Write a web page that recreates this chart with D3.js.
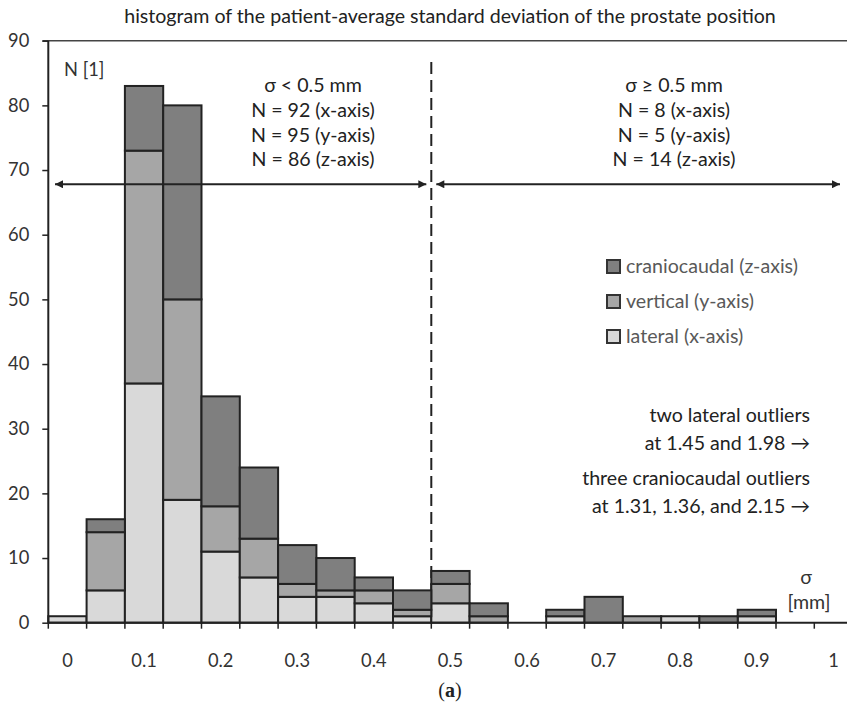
<!DOCTYPE html>
<html>
<head>
<meta charset="utf-8">
<script src="https://cdn.jsdelivr.net/npm/d3@7"></script>
<style>
  html, body { margin: 0; padding: 0; background: #fff; }
  svg text { font-family: Lato, "Noto Sans", sans-serif; }
  svg text.serif { font-family: "Liberation Serif", "DejaVu Serif", serif; }
</style>
</head>
<body>
<svg id="chart" width="847" height="702"></svg>
<script>
// Histogram bins (bin centres, mm) and counts per axis
const bins = ["0", "0.05", "0.1", "0.15", "0.2", "0.25", "0.3", "0.35", "0.4", "0.45",
              "0.5", "0.55", "0.6", "0.65", "0.7", "0.75", "0.8", "0.85", "0.9", "0.95", "1"];
const tickLabels = ["0", "0.1", "0.2", "0.3", "0.4", "0.5", "0.6", "0.7", "0.8", "0.9", "1"];
const lateral      = [1, 5, 37, 19, 11, 7, 4, 4, 3, 1, 3, 0, 0, 1, 0, 0, 1, 0, 1, 0, 0];
const vertical     = [0, 9, 36, 31, 7, 6, 2, 1, 2, 1, 3, 1, 0, 0, 0, 1, 0, 0, 0, 0, 0];
const craniocaudal = [0, 2, 10, 30, 17, 11, 6, 5, 2, 3, 2, 2, 0, 1, 4, 0, 0, 1, 1, 0, 0];
const yTicks = [0, 10, 20, 30, 40, 50, 60, 70, 80, 90];

const seriesKeys = ["lateral", "vertical", "craniocaudal"];
const seriesNames = {
  craniocaudal: "craniocaudal (z-axis)",
  vertical: "vertical (y-axis)",
  lateral: "lateral (x-axis)"
};
const colors = { lateral: "#d9d9d9", vertical: "#a6a6a6", craniocaudal: "#7f7f7f" };

const leftText = ["σ < 0.5 mm", "N = 92 (x-axis)", "N = 95 (y-axis)", "N = 86 (z-axis)"];
const rightText = ["σ ≥ 0.5 mm", "N = 8 (x-axis)", "N = 5 (y-axis)", "N = 14 (z-axis)"];
const outlierText = ["two lateral outliers", "at 1.45 and 1.98 →",
                     "three craniocaudal outliers", "at 1.31, 1.36, and 2.15 →"];

const table = bins.map((b, i) => ({
  bin: b, lateral: lateral[i], vertical: vertical[i], craniocaudal: craniocaudal[i]
}));

const svg = d3.select("#chart");
const ink = "#222";
const fs = 19.6;     // annotation text
const fsAxis = 18.3; // tick labels

const x = d3.scaleBand().domain(bins).range([48.3, 48.3 + 21 * 38.3]).padding(0);
const y = d3.scaleLinear().domain([0, 90]).range([622.7, 40.7]);

// Title
svg.append("text")
  .attr("x", 450).attr("y", 23)
  .attr("text-anchor", "middle")
  .attr("font-size", fs).attr("fill", "#222")
  .text("histogram of the patient-average standard deviation of the prostate position");

// Top border line at 90
svg.append("line")
  .attr("x1", 42.5).attr("x2", 847)
  .attr("y1", y(90)).attr("y2", y(90))
  .attr("stroke", "#444").attr("stroke-width", 1.5);

// Divider between σ < 0.5 and σ ≥ 0.5
const xDiv = x("0.5");
svg.append("line")
  .attr("x1", xDiv).attr("x2", xDiv)
  .attr("y1", 62).attr("y2", y(0))
  .attr("stroke", ink).attr("stroke-width", 2)
  .attr("stroke-dasharray", "12,6");

// Stacked bars
const stack = d3.stack().keys(seriesKeys);
const layers = stack(table);
svg.append("g").selectAll("g")
  .data(layers)
  .join("g")
  .attr("fill", d => colors[d.key])
  .selectAll("rect")
  .data(d => d.filter(s => s[1] - s[0] > 0))
  .join("rect")
  .attr("x", d => x(d.data.bin))
  .attr("width", x.bandwidth())
  .attr("y", d => y(d[1]))
  .attr("height", d => y(d[0]) - y(d[1]))
  .attr("stroke", ink).attr("stroke-width", 2);

// Y axis
const yAxis = svg.append("g").attr("transform", `translate(${x.range()[0]},0)`)
  .call(d3.axisLeft(y).tickValues(yTicks).tickSize(6).tickPadding(13));
yAxis.select(".domain").attr("stroke", ink).attr("stroke-width", 2).attr("d", `M0,${y(90)}V${y(0)}`);
yAxis.selectAll(".tick line").attr("stroke", ink).attr("stroke-width", 1.5);
yAxis.selectAll(".tick text").attr("font-size", fsAxis).attr("fill", "#333");

// X axis: tick marks at bin edges, labels under every other bin
const edges = bins.map(b => x(b)).concat([x.range()[1]]);
const xAxisG = svg.append("g");
xAxisG.append("line")
  .attr("x1", x.range()[0]).attr("x2", 847)
  .attr("y1", y(0)).attr("y2", y(0))
  .attr("stroke", ink).attr("stroke-width", 2);
xAxisG.selectAll("line.edge")
  .data(edges.filter(e => e <= 847))
  .join("line").attr("class", "edge")
  .attr("x1", d => d).attr("x2", d => d)
  .attr("y1", y(0)).attr("y2", y(0) + 6)
  .attr("stroke", ink).attr("stroke-width", 1.5);
xAxisG.selectAll("text")
  .data(tickLabels)
  .join("text")
  .attr("x", d => x(d) + x.bandwidth() / 2)
  .attr("y", 667)
  .attr("text-anchor", "middle")
  .attr("font-size", fsAxis).attr("fill", "#333")
  .text(d => d);

// Axis titles
svg.append("text").attr("x", 64).attr("y", 76)
  .attr("font-size", fsAxis).attr("fill", "#333").text("N [1]");
svg.append("text").attr("x", 806).attr("y", 584)
  .attr("text-anchor", "middle").attr("font-size", fs).attr("fill", "#333").text("σ");
svg.append("text").attr("x", 809).attr("y", 609)
  .attr("text-anchor", "middle").attr("font-size", fs).attr("fill", "#333").text("[mm]");

// Range annotations
const lineGap = 24.8;
svg.append("g").selectAll("text").data(leftText).join("text")
  .attr("x", 313).attr("y", (d, i) => 92 + i * lineGap)
  .attr("text-anchor", "middle").attr("font-size", fs).attr("fill", "#222")
  .text(d => d);
svg.append("g").selectAll("text").data(rightText).join("text")
  .attr("x", 674).attr("y", (d, i) => 92 + i * lineGap)
  .attr("text-anchor", "middle").attr("font-size", fs).attr("fill", "#222")
  .text(d => d);

// Arrows spanning each range
const defs = svg.append("defs");
defs.append("marker").attr("id", "head")
  .attr("viewBox", "0 0 10 10").attr("refX", 10).attr("refY", 5)
  .attr("markerWidth", 5.5).attr("markerHeight", 4).attr("markerUnits", "strokeWidth")
  .attr("orient", "auto-start-reverse")
  .append("path").attr("d", "M0,0L10,5L0,10Z").attr("fill", ink);

const arrowY = y(67.8);
svg.append("line")
  .attr("x1", 55).attr("x2", xDiv - 5)
  .attr("y1", arrowY).attr("y2", arrowY)
  .attr("stroke", ink).attr("stroke-width", 2)
  .attr("marker-start", "url(#head)").attr("marker-end", "url(#head)");
svg.append("line")
  .attr("x1", xDiv + 5).attr("x2", 840)
  .attr("y1", arrowY).attr("y2", arrowY)
  .attr("stroke", ink).attr("stroke-width", 2)
  .attr("marker-start", "url(#head)").attr("marker-end", "url(#head)");

// Legend
const legendKeys = ["craniocaudal", "vertical", "lateral"];
const legend = svg.append("g").selectAll("g").data(legendKeys).join("g")
  .attr("transform", (d, i) => `translate(607,${260 + i * 35})`);
legend.append("rect").attr("width", 13).attr("height", 13)
  .attr("fill", d => colors[d]).attr("stroke", "#333").attr("stroke-width", 2);
legend.append("text").attr("x", 19).attr("y", 13)
  .attr("font-size", fs).attr("fill", "#595959")
  .text(d => seriesNames[d]);

// Outlier notes
svg.append("g").selectAll("text").data(outlierText).join("text")
  .attr("x", 810).attr("y", (d, i) => [422, 450, 485, 513][i])
  .attr("text-anchor", "end").attr("font-size", fs).attr("fill", "#222")
  .text(d => d);

// Panel label
svg.append("text").attr("class", "serif").attr("x", 450).attr("y", 697)
  .attr("text-anchor", "middle").attr("font-size", 20).attr("fill", "#222")
  .html("(<tspan font-weight='bold'>a</tspan>)");
</script>
</body>
</html>
